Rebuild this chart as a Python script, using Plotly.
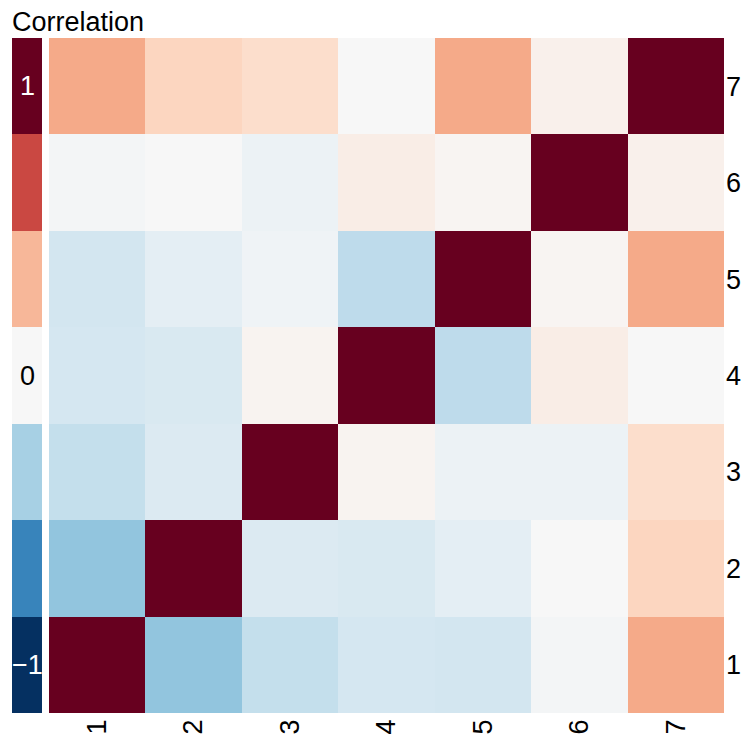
import plotly.graph_objects as go
import plotly.colors as pc

# variable labels (1..7)
labels = [1, 2, 3, 4, 5, 6, 7]

# correlation matrix, row i = variable i (bottom to top)
row_1 = [1.00, -0.40, -0.24, -0.18, -0.19, -0.02, 0.38]
row_2 = [-0.40, 1.00, -0.14, -0.16, -0.10, 0.00, 0.22]
row_3 = [-0.24, -0.14, 1.00, 0.03, -0.06, -0.06, 0.18]
row_4 = [-0.18, -0.16, 0.03, 1.00, -0.26, 0.07, 0.00]
row_5 = [-0.19, -0.10, -0.04, -0.26, 1.00, 0.02, 0.38]
row_6 = [-0.02, 0.00, -0.06, 0.07, 0.02, 1.00, 0.05]
row_7 = [0.38, 0.22, 0.18, 0.00, 0.38, 0.05, 1.00]
corr = [row_1, row_2, row_3, row_4, row_5, row_6, row_7]

# discrete legend strip on the left
legend_values = [-1, -2 / 3, -1 / 3, 0, 1 / 3, 2 / 3, 1]
legend_labels = {1: "\u22121", 4: "0", 7: "1"}
legend_label_colors = {1: "white", 4: "black", 7: "white"}

scale = pc.diverging.RdBu_r
font = "Liberation Sans, Arial, Helvetica, sans-serif"
fsize = 27

fig = go.Figure()
fig.add_trace(
    go.Heatmap(
        z=corr,
        x=labels,
        y=labels,
        zmin=-1,
        zmax=1,
        colorscale=scale,
        showscale=False,
        hoverinfo="skip",
    )
)
fig.add_trace(
    go.Heatmap(
        z=[[v] for v in legend_values],
        x=[0],
        y=labels,
        zmin=-1,
        zmax=1,
        colorscale=scale,
        showscale=False,
        xaxis="x2",
        yaxis="y2",
        hoverinfo="skip",
    )
)
for pos, txt in legend_labels.items():
    fig.add_annotation(
        x=0,
        y=pos,
        xref="x2",
        yref="y2",
        text=txt,
        showarrow=False,
        font={"size": fsize, "color": legend_label_colors[pos]},
    )

# page body adds an 8px offset, so the figure is sized to fit the window
W, H = 741, 727
fig.update_layout(
    width=W,
    height=H,
    margin={"l": 4, "r": W - 716, "t": 30, "b": H - 705, "autoexpand": False},
    paper_bgcolor="white",
    plot_bgcolor="white",
    font={"family": font, "size": fsize, "color": "black"},
    title={
        "text": "Correlation",
        "x": 4 / W,
        "xanchor": "left",
        "xref": "container",
        "y": 1 - 14 / H,
        "yanchor": "middle",
        "yref": "container",
        "font": {"size": fsize},
    },
    xaxis={
        "domain": [37 / 712, 1],
        "range": [0.5, 7.5],
        "tickvals": labels,
        "tickangle": -90,
        "showgrid": False,
        "zeroline": False,
        "ticks": "",
        "automargin": False,
        "ticklabelstandoff": 0,
    },
    yaxis={
        "side": "right",
        "range": [0.5, 7.5],
        "tickvals": labels,
        "showgrid": False,
        "zeroline": False,
        "ticks": "",
        "automargin": False,
        "ticklabelstandoff": 1,
    },
    xaxis2={
        "domain": [0, 30 / 712],
        "range": [-0.5, 0.5],
        "anchor": "y2",
        "visible": False,
    },
    yaxis2={
        "anchor": "x2",
        "range": [0.5, 7.5],
        "visible": False,
    },
)

fig.write_html("out.html")
